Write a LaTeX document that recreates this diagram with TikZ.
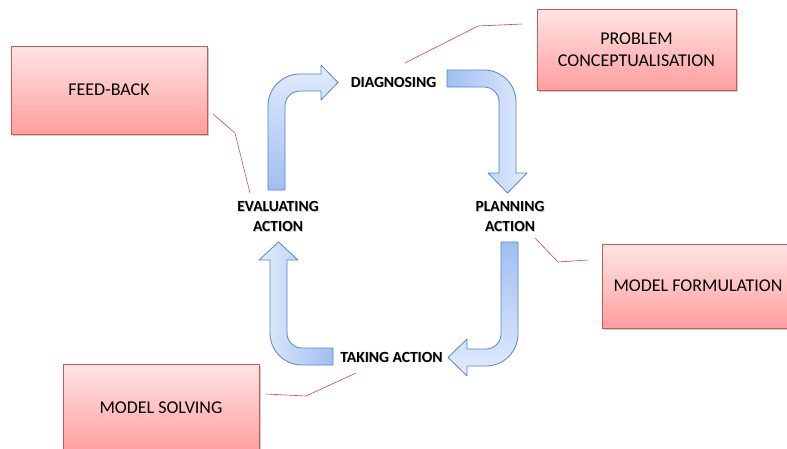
\documentclass[tikz,border=0pt]{standalone}
\usepackage{fontspec}
\setmainfont{Carlito}
\usetikzlibrary{shadows}
\definecolor{boxline}{RGB}{200,90,88}
\definecolor{boxtop}{RGB}{255,228,228}
\definecolor{boxbot}{RGB}{255,158,158}
\definecolor{arrline}{RGB}{88,132,196}
\definecolor{arrdark}{RGB}{160,190,242}
\definecolor{arrlight}{RGB}{226,236,252}
\definecolor{callout}{RGB}{200,70,70}
\tikzset{
  notebox/.style={draw=boxline, line width=0.8pt, top color=boxtop, bottom color=boxbot,
    drop shadow={shadow xshift=1.5pt, shadow yshift=-2pt, opacity=0.35, fill=black!60},
    font=\fontsize{18}{22}\selectfont, align=center, inner sep=0pt},
  stage/.style={font=\bfseries\fontsize{15.5}{19.5}\selectfont, align=center, inner sep=0pt},
  stageshadow/.style={stage, text=black!35, opacity=0.6},
  bentarrow/.style={draw=arrline, line width=0.8pt, line join=round},
  leader/.style={draw=callout, line width=0.6pt},
}
\newcommand{\stagelabel}[3]{%
  \node[stageshadow] at ([shift={(0.8,0.8)}]#2) {#3};
  \node[stage] (#1) at (#2) {#3};}
\begin{document}
\begin{tikzpicture}[x=1pt, y=1pt, yscale=-1]
\useasboundingbox (0,0) rectangle (787,448);
\clip (0,0) rectangle (787,448);

% note boxes
\node[notebox, minimum width=196pt, minimum height=88pt] (feedback) at (109,90) {FEED-BACK};
\node[notebox, minimum width=199pt, minimum height=81pt] (problem) at (636.5,49.5) {PROBLEM\\CONCEPTUALISATION};
\node[notebox, minimum width=192pt, minimum height=84pt] (formulation) at (698,286) {MODEL FORMULATION};
\node[notebox, minimum width=196pt, minimum height=88pt] (solving) at (161,408) {MODEL SOLVING};

% stage labels
\stagelabel{diag}{393.5,82}{DIAGNOSING}
\stagelabel{plan}{510,216.5}{PLANNING\\ACTION}
\stagelabel{take}{391.5,357}{TAKING ACTION}
\stagelabel{eval}{278,216.5}{EVALUATING\\ACTION}

% bent arrows between the stages
\shade[bentarrow, bottom color=arrdark, top color=arrlight]
  (268,190) -- (268,106) arc[start angle=180, end angle=270, radius=32]
  -- (321,74) -- (321,65) -- (338,82.5) -- (321,100) -- (321,91)
  -- (300,91) arc[start angle=270, end angle=180, radius=15]
  -- (285,190) -- cycle;
\shade[bentarrow, left color=arrdark, right color=arrlight]
  (447,70) -- (484,70) arc[start angle=270, end angle=360, radius=32]
  -- (516,173) -- (527,173) -- (507.5,193) -- (488,173) -- (499,173)
  -- (499,102) arc[start angle=0, end angle=-90, radius=15]
  -- (447,87) -- cycle;
\shade[bentarrow, top color=arrdark, bottom color=arrlight]
  (501,242) -- (518,242) -- (518,334) arc[start angle=0, end angle=90, radius=32]
  -- (467,366) -- (467,376) -- (448,357.5) -- (467,339) -- (467,349)
  -- (486,349) arc[start angle=90, end angle=0, radius=15]
  -- cycle;
\shade[bentarrow, right color=arrdark, left color=arrlight]
  (333,348) -- (302,348) arc[start angle=90, end angle=180, radius=15]
  -- (287,260) -- (298,260) -- (278.5,242) -- (259,260) -- (270,260)
  -- (270,333) arc[start angle=180, end angle=90, radius=32]
  -- (333,365) -- cycle;

% callout leaders
\coordinate (fbA) at (213,114);  \coordinate (fbB) at (235,133);  \coordinate (fbC) at (250,193);
\coordinate (pcA) at (522,24);   \coordinate (pcB) at (478,26);   \coordinate (pcC) at (405,63);
\coordinate (mfA) at (588,260);  \coordinate (mfB) at (558,262);  \coordinate (mfC) at (535,238);
\coordinate (msA) at (266,394);  \coordinate (msB) at (306,396);  \coordinate (msC) at (356,373);
\draw[leader] (fbA) -- (fbB) -- (fbC);
\draw[leader] (pcA) -- (pcB) -- (pcC);
\draw[leader] (mfA) -- (mfB) -- (mfC);
\draw[leader] (msA) -- (msB) -- (msC);
\end{tikzpicture}
\end{document}
